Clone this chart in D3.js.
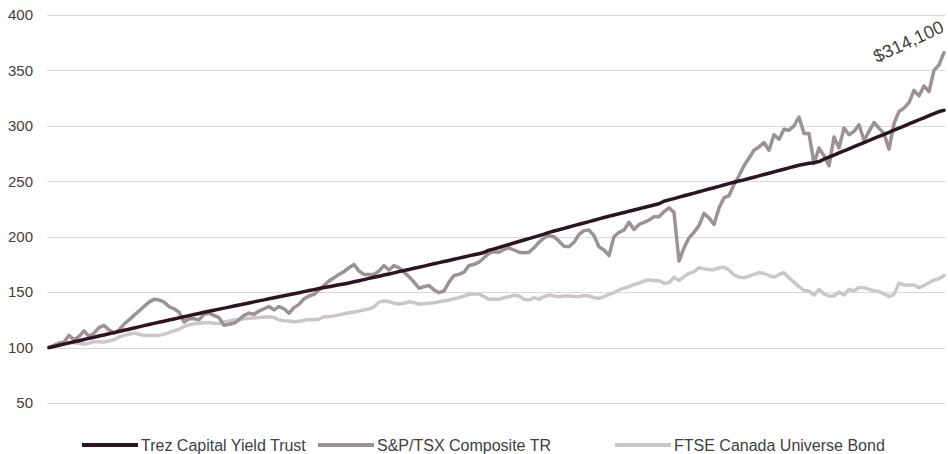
<!DOCTYPE html>
<html><head><meta charset="utf-8">
<script src="https://cdn.jsdelivr.net/npm/d3@7"></script>
<style>body{margin:0;background:#fff;}svg{display:block;font-family:"Liberation Sans",Arial,sans-serif;}</style>
</head><body><svg id="chart" width="948" height="454"></svg>
<script>
const yTicks = [50,100,150,200,250,300,350,400];
const seriesNames = ["Trez Capital Yield Trust","S&P/TSX Composite TR","FTSE Canada Universe Bond"];
const annotationText = "$314,100";

const trez = [100,101,102.1,103.1,104.2,105.2,106.2,107.3,108.3,109.3,110.4,111.4,112.5,113.5,114.5,115.6,116.6,117.7,118.7,119.8,120.8,
121.8,122.8,123.8,124.8,125.8,126.8,127.8,128.8,129.8,130.8,131.8,132.8,
133.7,134.7,135.6,136.5,137.5,138.4,139.3,140.2,141.2,142.1,143.0,144.0,144.9,145.8,146.8,147.7,148.6,149.5,150.5,151.4,152.3,153.3,
154.1,154.9,155.8,156.6,157.4,158.3,
159.3,160.3,161.3,162.4,163.4,164.4,165.4,166.4,167.4,168.5,169.5,170.5,171.5,172.5,173.5,174.6,175.6,176.6,177.6,178.6,179.6,180.7,181.7,182.7,183.7,184.7,185.8,
187.9,189,190.3,191.7,193,194.3,195.7,197,198.3,199.7,201,202.3,203.9,
205.1,206.3,207.5,208.8,210,211.2,212.4,213.6,214.9,216.1,217.3,
218.4,219.6,220.7,221.8,223,224.1,225.2,226.3,227.5,228.6,229.7,
232,233.2,234.4,235.7,236.9,238.1,239.3,240.6,241.8,243,244.2,245.4,246.7,247.9,249.1,250.2,
251.3,252.5,253.7,254.9,256.1,257.3,258.5,259.7,260.9,262.1,263.3,264.5,
265.4,266.2,266.8,267.8,
269.9,271.8,273.7,275.6,277.4,279.3,281.2,283.0,284.9,286.8,288.6,290.5,292.4,294.2,296.1,298,299.8,301.7,303.6,305.5,307.3,309.2,311.1,312.9,314];

const tsx = [100,102,104,105,111,107,110,115,110,113,118,120,116,113,116,121,125,129,133,137,141,143.5,143,141,137,135,132,123,126,126,
125,130,131,129,127,120,121,122,125,129,131,130,133,135,137,134,137,135,131,136,139,144,146.5,148,152,156,160,163,166,168.5,
172,175,169,166,166,166,169,174,170,174,172,168,164,159,153.5,155,156,152,149.5,151,159,165,166,168,174,175,177,181,185,186.5,
186,188.5,190,188,186,185.5,186,190,195,199,201,200,196,191.5,191,195,202,205.5,206,201,191,188,183,200,204,206,213,206.5,211,213,
215,218,218,222.6,226,222,178,190,199,204,210,221,217,211,226,235,237,247,255,264,271,278,281,285,278,292,288,297,296,300,
308,293,293,266,280,273,264,290,280,298,292,295,301,287,295,303,298,293,279,302,313,316,321,332,327,336,331,350,355,366];

const bond = [100,101.5,102.5,103.5,104,104.5,104,103,104,105.5,105,105,106,107,109.5,111,112,113,112,111,111,111,111,112,113.5,115,116.5,119,120.5,121.5,
122,122.4,122.4,122,121.8,123,124,124.8,125.5,126,126.3,126.8,127.2,127.5,127.8,127,125,124.2,124,123.3,123.8,124.5,125.4,125,125.5,127.8,128,128.5,129.5,130.5,
131.4,132,133,134,135,136.5,141,142,141.5,140,139.3,140,141.3,140.5,139.3,139.5,140,140.5,141.3,142,142.9,144,145,146.5,148,148.3,148.3,146,143.5,143.5,
143.5,145,145.8,147.4,146.5,143.5,142.9,145,143.5,146,147.4,146.5,145.8,146.5,146.5,146,145.8,147,146.5,145,144.4,146,148,149.5,152,153.5,155,157,158,160,
161,160.3,160.5,158,158.5,163.5,160.5,164,167,168.5,172,171,170.3,170.3,172,172.5,170,165.5,163.5,163,164.5,166,167.5,167,165,163.5,166,167.5,163,159,
155,151.5,151,147.4,152.5,148.5,146.5,146.5,150,147.5,152.5,151,154.3,154,152.5,151.3,150.5,148.5,146,148,158,156.5,156.4,156.4,154,156,158.5,161,162,165];

const colors = ["#2f1322","#9d9194","#cdc6c8"];
const svg = d3.select("#chart");
const y = d3.scaleLinear().domain([50,400]).range([403,15]);
const xL = 47, xR = 945, x0 = 49, x1 = 944;

svg.append("g").selectAll("line").data(yTicks).join("line")
  .attr("x1",xL).attr("x2",xR).attr("y1",d=>Math.round(y(d))+0.5).attr("y2",d=>Math.round(y(d))+0.5)
  .attr("stroke","#d9d9d9").attr("stroke-width",1);
svg.append("g").selectAll("text").data(yTicks).join("text")
  .attr("x",33).attr("y",d=>y(d)).attr("dy","0.35em").attr("text-anchor","end")
  .attr("font-size",15).attr("fill","#404040").text(d=>d);

const series = [bond, tsx, trez];
const sColors = [colors[2], colors[1], colors[0]];
series.forEach((arr,k)=>{
  const x = d3.scaleLinear().domain([0,arr.length-1]).range([x0,x1]);
  const line = d3.line().x((d,i)=>x(i)).y(d=>y(d)).curve(d3.curveLinear);
  svg.append("path").datum(arr).attr("d",line).attr("fill","none")
    .attr("stroke",sColors[k]).attr("stroke-width",3.5).attr("stroke-linejoin","round").attr("stroke-linecap","round");
});

svg.append("text").attr("transform","translate(877,63) rotate(-25)")
  .attr("font-size",18).attr("fill","#404040").text(annotationText);

const legX = [82, 318, 615];
const lg = svg.append("g");
seriesNames.forEach((n,i)=>{
  lg.append("line").attr("x1",legX[i]).attr("x2",legX[i]+56).attr("y1",445).attr("y2",445)
    .attr("stroke",colors[i]).attr("stroke-width",4);
  lg.append("text").attr("x",legX[i]+59).attr("y",445).attr("dy","0.35em")
    .attr("font-size",16).attr("fill","#404040").text(n);
});
</script></body></html>
